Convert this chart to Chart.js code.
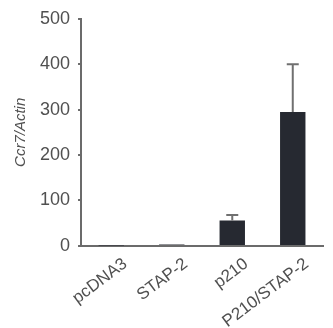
<!DOCTYPE html>
<html>
<head>
<meta charset="utf-8">
<script src="https://cdn.jsdelivr.net/npm/chart.js@4.4.1/dist/chart.umd.min.js"></script>
<style>
  html, body { margin: 0; padding: 0; background: #fff; }
  #wrap { width: 333px; height: 328px; }
</style>
</head>
<body>
<div id="wrap"><canvas id="chart" width="333" height="328"></canvas></div>
<script>
    "use strict";

    // Data
    var categories = ['pcDNA3', 'STAP-2', 'p210', 'P210/STAP-2'];
    var values = [1, 3, 56, 295];
    var errors = [0, 0, 12, 105];
    var yTicks = [0, 100, 200, 300, 400, 500];

    var textColor = '#505050';
    var axisColor = '#6b6b6b';
    var barColor = '#262931';

    // Error bars (upper only), drawn through the y scale
    var errorBars = {
        id: 'errorBars',
        afterDatasetsDraw: function (chart) {
            var ctx = chart.ctx;
            var y = chart.scales.y;
            var meta = chart.getDatasetMeta(0);
            ctx.save();
            ctx.strokeStyle = '#707070';
            ctx.lineWidth = 2;
            meta.data.forEach(function (bar, i) {
                if (!errors[i]) return;
                var top = y.getPixelForValue(values[i] + errors[i]);
                var base = y.getPixelForValue(values[i]);
                ctx.beginPath();
                ctx.moveTo(bar.x, base);
                ctx.lineTo(bar.x, top);
                ctx.moveTo(bar.x - 6, top);
                ctx.lineTo(bar.x + 6, top);
                ctx.stroke();
            });
            ctx.restore();
        }
    };

    Chart.defaults.font.family = '"Liberation Sans", Arial, sans-serif';
    Chart.defaults.color = textColor;

    new Chart(document.getElementById('chart').getContext('2d'), {
        type: 'bar',
        data: {
            labels: categories,
            datasets: [{
                data: values,
                backgroundColor: barColor,
                borderWidth: 0,
                barPercentage: 0.42,
                categoryPercentage: 1
            }]
        },
        options: {
            responsive: false,
            animation: false,
            layout: { padding: { top: 15, right: 10, left: 12, bottom: -4 } },
            plugins: { legend: { display: false }, tooltip: { enabled: false } },
            scales: {
                x: {
                    grid: { display: false },
                    border: { color: axisColor, width: 2 },
                    ticks: {
                        color: textColor,
                        font: { size: 17 },
                        minRotation: 37,
                        maxRotation: 37,
                        labelOffset: 14,
                        padding: 0
                    }
                },
                y: {
                    min: 0,
                    max: 500,
                    afterBuildTicks: function (axis) {
                        axis.ticks = yTicks.map(function (v) { return { value: v }; });
                    },
                    grid: { drawOnChartArea: false, drawTicks: true, tickLength: 3, color: axisColor, lineWidth: 2 },
                    border: { color: axisColor, width: 2 },
                    ticks: { color: textColor, font: { size: 18 }, padding: 8 },
                    title: {
                        display: true,
                        text: 'Ccr7/Actin',
                        color: textColor,
                        font: { size: 15, style: 'italic' },
                        padding: { top: 0, bottom: 2 }
                    }
                }
            }
        },
        plugins: [errorBars]
    });
</script>
</body>
</html>
